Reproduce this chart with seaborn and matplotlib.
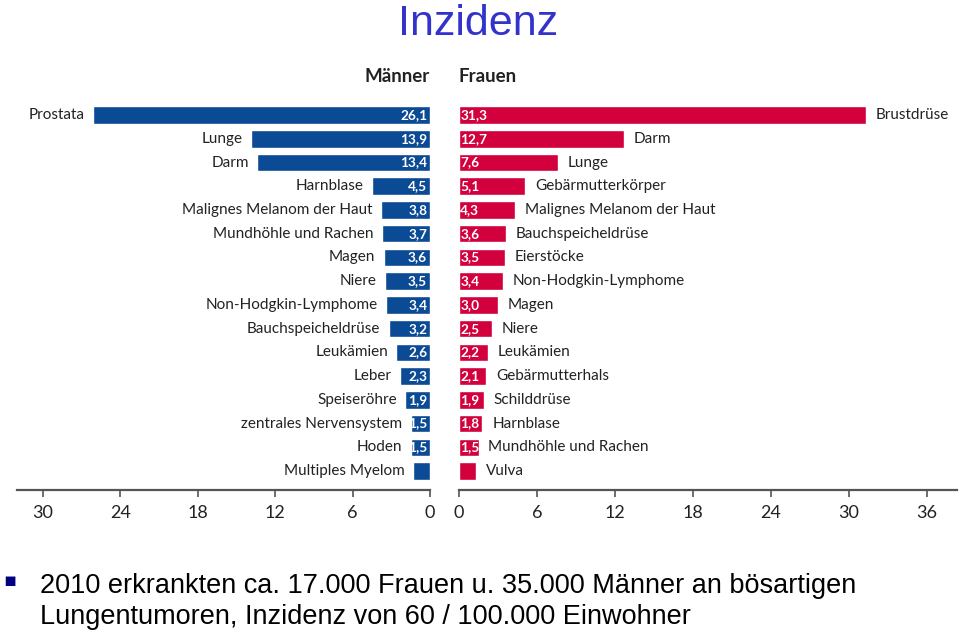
import matplotlib
matplotlib.use("Agg")
import matplotlib.pyplot as plt
import seaborn as sns
import pandas as pd

# ---- data ----
men_cats = ["Prostata", "Lunge", "Darm", "Harnblase", "Malignes Melanom der Haut",
            "Mundhöhle und Rachen", "Magen", "Niere", "Non-Hodgkin-Lymphome",
            "Bauchspeicheldrüse", "Leukämien", "Leber", "Speiseröhre",
            "zentrales Nervensystem", "Hoden", "Multiples Myelom"]
men_vals = [26.1, 13.9, 13.4, 4.5, 3.8, 3.7, 3.6, 3.5, 3.4, 3.2, 2.6, 2.3, 1.9, 1.5, 1.5, 1.3]
men_labels = ["26,1", "13,9", "13,4", "4,5", "3,8", "3,7", "3,6", "3,5", "3,4", "3,2",
              "2,6", "2,3", "1,9", "1,5", "1,5", ""]

women_cats = ["Brustdrüse", "Darm", "Lunge", "Gebärmutterkörper", "Malignes Melanom der Haut",
              "Bauchspeicheldrüse", "Eierstöcke", "Non-Hodgkin-Lymphome", "Magen", "Niere",
              "Leukämien", "Gebärmutterhals", "Schilddrüse", "Harnblase",
              "Mundhöhle und Rachen", "Vulva"]
women_vals = [31.3, 12.7, 7.6, 5.1, 4.3, 3.6, 3.5, 3.4, 3.0, 2.5, 2.2, 2.1, 1.9, 1.8, 1.5, 1.3]
women_labels = ["31,3", "12,7", "7,6", "5,1", "4,3", "3,6", "3,5", "3,4", "3,0", "2,5",
                "2,2", "2,1", "1,9", "1,8", "1,5", ""]

men_ticks = [30, 24, 18, 12, 6, 0]
women_ticks = [0, 6, 12, 18, 24, 30, 36]

title = "Inzidenz"
note_line1 = "2010 erkrankten ca. 17.000 Frauen u. 35.000 Männer an bösartigen"
note_line2 = "Lungentumoren, Inzidenz von 60 / 100.000 Einwohner"

# ---- style ----
sns.set_theme(style="white")
plt.rcParams["font.family"] = ["Lato", "DejaVu Sans"]

BLUE = "#0b4a94"
RED = "#d2003c"
AXC = "#555555"
TXT = "#222222"

W, H = 960, 634
fig = plt.figure(figsize=(W / 100, H / 100), dpi=100)

def fx(px):
    return px / W

def fy(px):
    return 1 - px / H

top_px, bot_px = 100.8, 490
ax_b = fy(bot_px)
ax_h = (bot_px - top_px) / H
axL = fig.add_axes([fx(17), ax_b, fx(430 - 17), ax_h])
axR = fig.add_axes([fx(459), ax_b, fx(957 - 459), ax_h])

dfm = pd.DataFrame({"cat": men_cats, "val": men_vals})
dfw = pd.DataFrame({"cat": women_cats, "val": women_vals})

sns.barplot(data=dfm, x="val", y="cat", orient="h", color=BLUE, width=0.74,
            saturation=1, ax=axL)
sns.barplot(data=dfw, x="val", y="cat", orient="h", color=RED, width=0.74,
            saturation=1, ax=axR)

axL.set_xlim(32.0, 0)
axR.set_xlim(0, 38.3)
for ax in (axL, axR):
    ax.set_ylim(15.8, -0.6)
    ax.set_ylabel("")
    ax.set_xlabel("")
    ax.set_yticks([])
    for s in ("top", "left", "right"):
        ax.spines[s].set_visible(False)
    ax.spines["bottom"].set_color(AXC)
    ax.spines["bottom"].set_linewidth(1.6)
    ax.tick_params(axis="x", direction="out", length=5, width=1.2, color=AXC,
                   labelsize=13, labelcolor=TXT, pad=6, bottom=True)
    ax.patch.set_alpha(0)

axL.set_xticks(men_ticks)
axL.set_xticklabels([str(t) for t in men_ticks])
axR.set_xticks(women_ticks)
axR.set_xticklabels([str(t) for t in women_ticks])

# value + category labels
for i, (c, v, lab) in enumerate(zip(men_cats, men_vals, men_labels)):
    if lab:
        axL.annotate(lab, (0, i), xytext=(-2, 0), textcoords="offset points",
                     ha="right", va="center", color="white", fontsize=9.8,
                     fontweight="bold")
    axL.annotate(c, (v, i), xytext=(-6, 0), textcoords="offset points",
                 ha="right", va="center", color=TXT, fontsize=11)
for i, (c, v, lab) in enumerate(zip(women_cats, women_vals, women_labels)):
    if lab:
        axR.annotate(lab, (0, i), xytext=(1, 0), textcoords="offset points",
                     ha="left", va="center", color="white", fontsize=9.8,
                     fontweight="bold")
    axR.annotate(c, (v, i), xytext=(7, 0), textcoords="offset points",
                 ha="left", va="center", color=TXT, fontsize=11)

# headers
fig.text(fx(430), fy(77), "Männer", ha="right", va="center", fontsize=13.5,
         fontweight="bold", color=TXT)
fig.text(fx(458), fy(77), "Frauen", ha="left", va="center", fontsize=13.5,
         fontweight="bold", color=TXT)

# title
fig.text(fx(478), fy(35), title, ha="center", va="baseline", fontsize=31,
         color="#3333cc", family=["Liberation Sans", "DejaVu Sans"])

# bottom note
fig.text(fx(3), fy(586), "\u25aa", ha="left", va="baseline", fontsize=14,
         color="#000080", family=["DejaVu Sans"])
fig.text(fx(40), fy(593), note_line1, ha="left", va="baseline", fontsize=19.5,
         color="black", family=["Liberation Sans", "DejaVu Sans"])
fig.text(fx(40), fy(624), note_line2, ha="left", va="baseline", fontsize=19.5,
         color="black", family=["Liberation Sans", "DejaVu Sans"])

fig.savefig("out.png", dpi=100)
